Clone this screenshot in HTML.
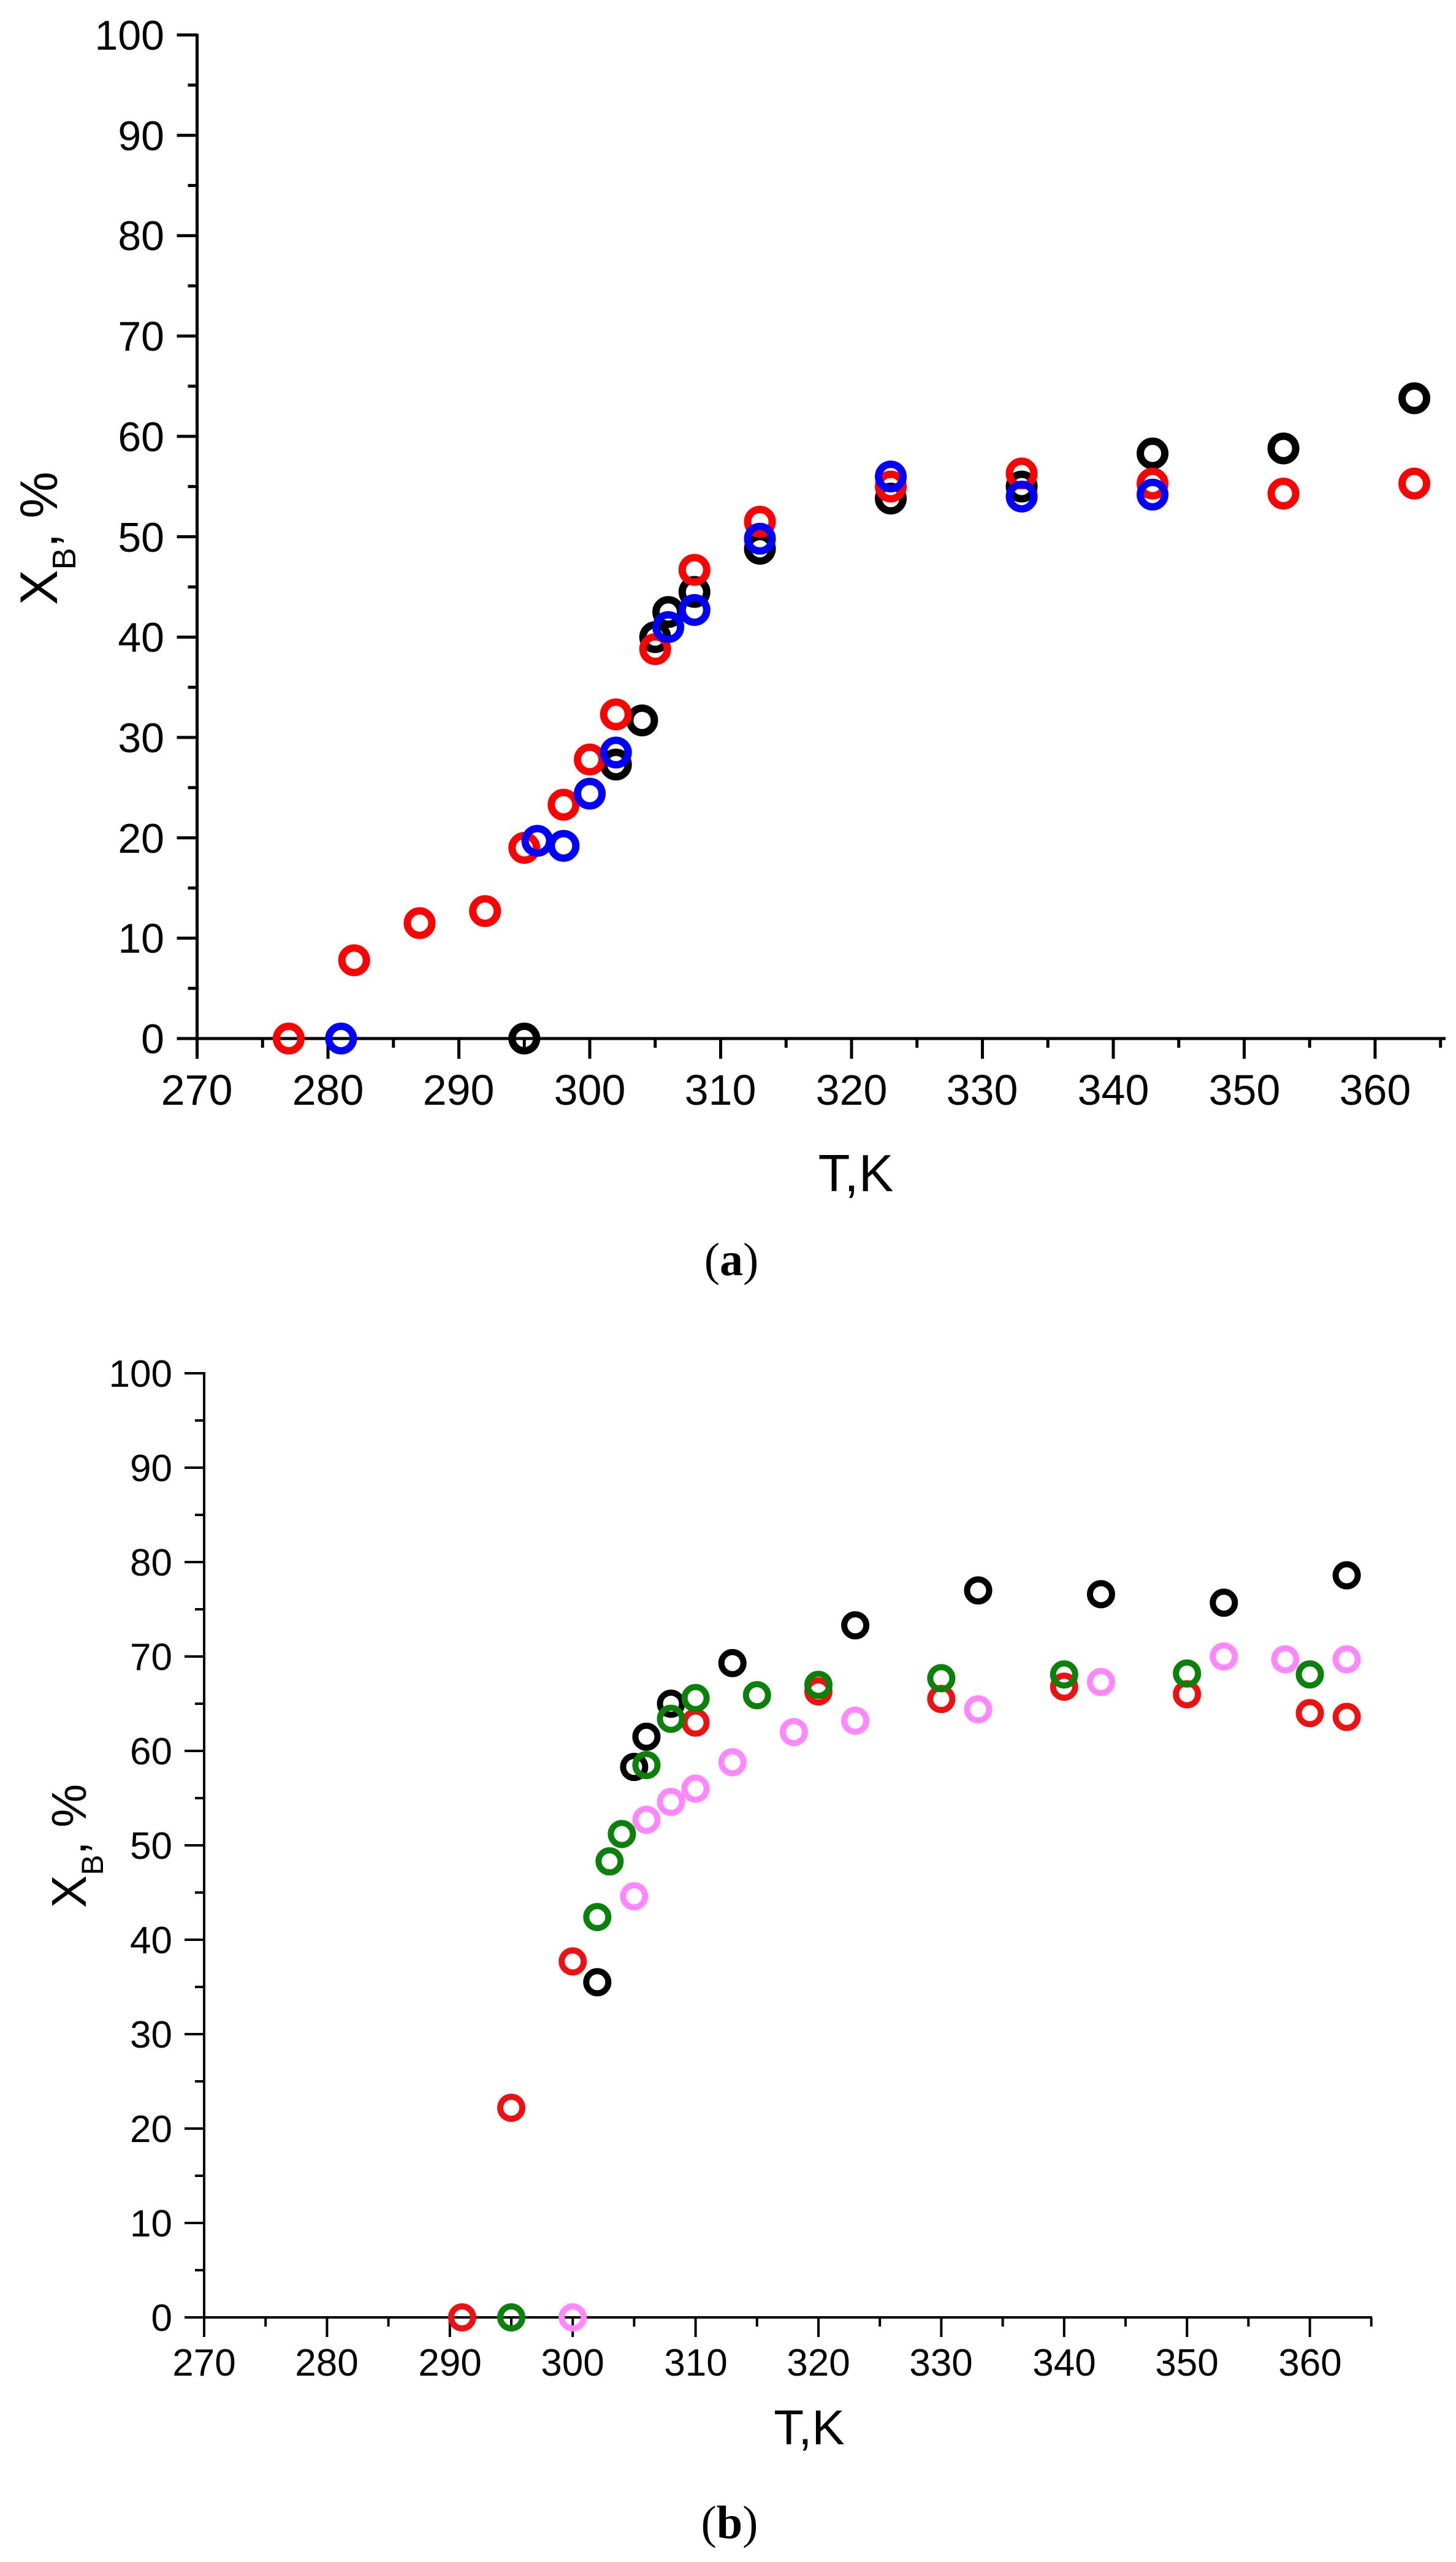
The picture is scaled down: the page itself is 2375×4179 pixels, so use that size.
<!DOCTYPE html>
<html><head><meta charset="utf-8">
<style>
html,body{margin:0;padding:0;background:#fff;}
svg{display:block;}
text{font-family:"Liberation Sans",Arial,sans-serif;fill:#000;}
.cap{font-family:"Liberation Serif","Times New Roman",serif;font-size:76px;}
</style></head>
<body>
<svg id="s" width="2375" height="4179" viewBox="0 0 2375 4179" xmlns="http://www.w3.org/2000/svg">
<rect width="2375" height="4179" fill="#fff"/>
<g id="axA" stroke="#000" stroke-width="5" fill="none"></g>
<g id="axB" stroke="#000" stroke-width="4" fill="none"></g>

<!-- plot (a) y tick labels -->
<g font-size="68" text-anchor="end">
<text x="268" y="81">100</text>
<text x="268" y="245">90</text>
<text x="268" y="408">80</text>
<text x="268" y="572">70</text>
<text x="268" y="736">60</text>
<text x="268" y="900">50</text>
<text x="268" y="1063">40</text>
<text x="268" y="1227">30</text>
<text x="268" y="1391">20</text>
<text x="268" y="1554">10</text>
<text x="268" y="1718">0</text>
</g>
<g font-size="70" text-anchor="middle">
<text x="321" y="1802">270</text>
<text x="535" y="1802">280</text>
<text x="748" y="1802">290</text>
<text x="962" y="1802">300</text>
<text x="1175" y="1802">310</text>
<text x="1389" y="1802">320</text>
<text x="1602" y="1802">330</text>
<text x="1816" y="1802">340</text>
<text x="2030" y="1802">350</text>
<text x="2243" y="1802">360</text>
</g>
<text x="1396" y="1943" font-size="85" text-anchor="middle">T,K</text>
<text transform="translate(93,878) rotate(-90)" font-size="86" text-anchor="middle">X<tspan font-size="54" dy="30">B</tspan><tspan dy="-30">, %</tspan></text>
<text class="cap" x="1193" y="2080" text-anchor="middle">(<tspan font-weight="bold">a</tspan>)</text>

<!-- plot (b) labels -->
<g font-size="62" text-anchor="end">
<text x="281" y="2262">100</text>
<text x="281" y="2416">90</text>
<text x="281" y="2570">80</text>
<text x="281" y="2724">70</text>
<text x="281" y="2878">60</text>
<text x="281" y="3032">50</text>
<text x="281" y="3186">40</text>
<text x="281" y="3340">30</text>
<text x="281" y="3494">20</text>
<text x="281" y="3648">10</text>
<text x="281" y="3802">0</text>
</g>
<g font-size="62" text-anchor="middle">
<text x="333" y="3875">270</text>
<text x="533" y="3875">280</text>
<text x="734" y="3875">290</text>
<text x="934" y="3875">300</text>
<text x="1135" y="3875">310</text>
<text x="1335" y="3875">320</text>
<text x="1535" y="3875">330</text>
<text x="1736" y="3875">340</text>
<text x="1936" y="3875">350</text>
<text x="2137" y="3875">360</text>
</g>
<text x="1320" y="3987" font-size="80" text-anchor="middle">T,K</text>
<text transform="translate(140,3011) rotate(-90)" font-size="80" text-anchor="middle">X<tspan font-size="50" dy="28">B</tspan><tspan dy="-28">, %</tspan></text>
<text class="cap" x="1190" y="4140" text-anchor="middle">(<tspan font-weight="bold">b</tspan>)</text>

<g id="ptsA" fill="none" stroke-width="12"></g>
<g id="ptsB" fill="none" stroke-width="10"></g>
</svg>
<script>
var NS="http://www.w3.org/2000/svg";
function el(p,t,a){var e=document.createElementNS(NS,t);for(var k in a)e.setAttribute(k,a[k]);p.appendChild(e);}
function axes(g,x0,x1,y0,yTop,X,Y,maj,mnr){
 el(g,"line",{x1:x0,y1:y0,x2:x1,y2:y0});
 el(g,"line",{x1:x0,y1:y0+maj,x2:x0,y2:yTop});
 for(var v=0;v<=100;v+=5){var y=Y(v);el(g,"line",{x1:x0-(v%10?mnr:maj),y1:y,x2:x0,y2:y});}
 for(var t=270;t<=365;t+=5){var x=X(t);if(x>x1)break;el(g,"line",{x1:x,y1:y0,x2:x,y2:y0+(t%10?mnr:maj)});}
}
var XA=function(t){return 321.5+(t-270)*21.35},YA=function(v){return 1694-v*16.37};
var XB=function(t){return 333+(t-270)*20.04},YB=function(v){return 3780-v*15.4};
axes(document.getElementById("axA"),321.5,2358,1694,55,XA,YA,33,15);
axes(document.getElementById("axB"),333,2238,3780,2238,XB,YB,32,15);
function pts(g,X,Y,col,d,r){d.forEach(function(p){el(g,"circle",{cx:X(p[0]),cy:Y(p[1]),r:r,stroke:col});});}
var gA=document.getElementById("ptsA"),gB=document.getElementById("ptsB");
pts(gA,XA,YA,"#000",[[295,0],[302,27.3],[304,31.7],[305,40],[306,42.5],[308,44.5],[313,48.8],[323,53.8],[333,55],[343,58.3],[353,58.8],[363,63.8]],20);
pts(gA,XA,YA,"#ff0000",[[277,0],[282,7.8],[287,11.5],[292,12.7],[295,19],[298,23.3],[300,27.8],[302,32.3],[305,38.8],[308,46.7],[313,51.5],[323,55],[333,56.3],[343,55.3],[353,54.3],[363,55.3]],20);
pts(gA,XA,YA,"#0000ff",[[281,0],[296,19.7],[298,19.2],[300,24.4],[302,28.5],[306,41],[308,42.7],[313,49.8],[323,56],[333,54],[343,54.2]],20);
pts(gB,XB,YB,"#000",[[302,35.5],[305,58.3],[306,61.5],[308,65],[313,69.3],[323,73.3],[333,77],[343,76.6],[353,75.7],[363,78.6]],18);
pts(gB,XB,YB,"#ee1111",[[291,0],[295,22.2],[300,37.7],[310,63],[320,66.3],[330,65.5],[340,66.8],[350,66],[360,64],[363,63.6]],18);
pts(gB,XB,YB,"#ff88ff",[[300,0],[305,44.6],[306,52.7],[308,54.6],[310,56],[313,58.8],[318,62],[323,63.2],[333,64.4],[343,67.3],[353,70],[358,69.7],[363,69.7]],18);
pts(gB,XB,YB,"#0a820a",[[295,0],[302,42.4],[303,48.3],[304,51.2],[306,58.5],[308,63.4],[310,65.6],[315,65.9],[320,67],[330,67.7],[340,68.1],[350,68.2],[360,68.1]],18);
</script>
</body></html>
